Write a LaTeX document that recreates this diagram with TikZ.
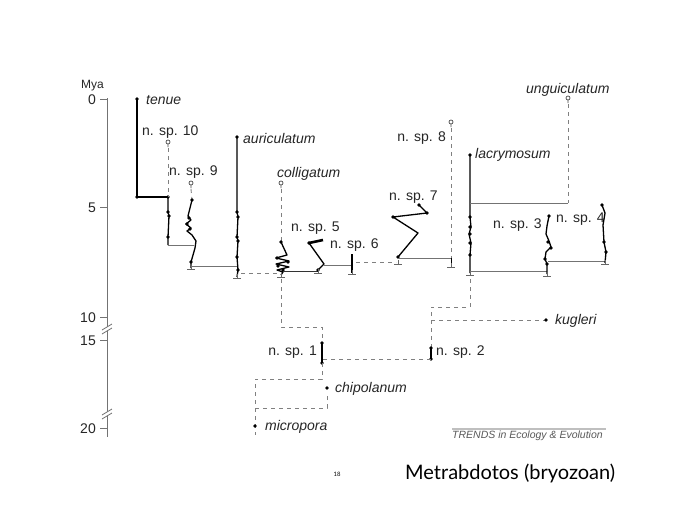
\documentclass[tikz,border=0pt]{standalone}
\usepackage{fontspec}
\setmainfont{Liberation Sans}
\newfontfamily\titlefont{Lato}
\tikzset{
  lin/.style={line width=1.3pt, black, line join=round},
  conn/.style={line width=1pt, black!55},
  dsh/.style={line width=0.9pt, black!50, dash pattern=on 4pt off 4pt},
  axis/.style={line width=1pt, black!55},
  lbl/.style={font=\fontsize{14}{16}\selectfont, inner sep=0pt, anchor=base west, text=black!85},
  sp/.style={lbl, font=\fontsize{14}{16}\selectfont\itshape},
}
\newcommand\mydot[1]{\fill (#1) circle (1.8pt);}
\newcommand\myopen[2]{\draw[line width=0.7pt, black!70] (#1,#2) circle (2pt) (#1,#2+2)--(#1,#2+5);}
\newcommand\btk[2]{\draw[line width=0.8pt, black!60] (#1-4,#2)--(#1+4,#2) (#1,#2-4)--(#1,#2);}
\begin{document}
\begin{tikzpicture}[x=1pt,y=-1pt]
\useasboundingbox (0,0) rectangle (688,504);
\fill[white] (0,0) rectangle (688,504);
% axis
\draw[axis] (107,98)--(107,437);
\foreach \yy in {99,207,317,340,428} \draw[axis] (100,\yy)--(107,\yy);
\node[lbl, anchor=base east] (t0) at (96,104) {0};
\node[lbl, anchor=base east] (t5) at (96,212) {5};
\node[lbl, anchor=base east] (t10) at (96,322) {10};
\node[lbl, anchor=base east] (t15) at (96,345) {15};
\node[lbl, anchor=base east] (t20) at (96,433) {20};
\node[lbl, font=\fontsize{12}{14}\selectfont] (mya) at (81,88) {Mya};
\foreach \yy in {329,414} {
  \fill[white] (102,\yy+1)--(112,\yy-5)--(112,\yy-1)--(102,\yy+5)--cycle;
  \draw[axis, line width=0.8pt] (102,\yy+1)--(112,\yy-5) (102,\yy+5)--(112,\yy-1);
}
% tenue
\draw[lin] (137,99)--(137,197)--(168,197);
\mydot{137,99}\mydot{137,197}\mydot{168,197}
\node[sp] (tenue) at (146,104) {tenue};
% n sp 10
\myopen{168}{142}
\draw[dsh] (168,148)--(168,197);
\draw[lin] (168,197)--(168,212)--(169,216)--(168,237)--(168,245);
\mydot{168,212}\mydot{169,216}\mydot{168,237}
\draw[conn] (168,245)--(194,245);
\node[lbl] (ns10) at (142,135) {n. sp. 10};
% n sp 9
\myopen{191}{183}
\draw[dsh] (191,189)--(192,200);
\draw[lin] (192,200)--(188,216)--(191,220)--(186,224)--(191,228)--(187,231)--(192,235)--(196,241)--(195,248)--(191,262)--(191,268);
\mydot{192,200}\mydot{189,218}\mydot{187,224}\mydot{190,229}\mydot{191,262}
\btk{191}{269}
\draw[conn] (191,266)--(237,266);
\node[lbl] (ns9) at (169,175) {n. sp. 9};
% auriculatum
\draw[lin] (237,137)--(237,212)--(238,217)--(237,237)--(238,241)--(237,257)--(238,270)--(237,277);
\mydot{237,137}\mydot{237,212}\mydot{238,217}\mydot{237,237}\mydot{238,241}\mydot{237,257}\mydot{238,270}
\btk{237}{278}
\draw[dsh] (241,273)--(279,273);
\node[sp] (auric) at (243,143) {auriculatum};
% colligatum
\myopen{281}{183}
\draw[dsh] (281,189)--(281,242);
\draw[lin] (281,242)--(287,255)--(276,258)--(289,261)--(276,264)--(289,267)--(277,270)--(283,272)--(281,275);
\mydot{281,242}\mydot{277,258}\mydot{288,262}\mydot{278,266}\mydot{283,270}
\btk{281}{277}
\node[sp] (collig) at (277,177) {colligatum};
\draw[line width=0.9pt, black!80] (283,271)--(318,271);
% n sp 5
\draw[lin] (318,270)--(324,264)--(309,243);
\draw[line width=2.6pt, black] (309,243)--(323,240);
\mydot{318,270}\mydot{309,243}
\btk{318}{273}
\draw[conn] (324,265)--(352,265);
\node[lbl] (ns5) at (291,231) {n. sp. 5};
% n sp 6
\draw[lin] (352,254)--(352,273);
\draw[line width=2.6pt] (352,254)--(352,260);
\btk{352}{274}
\node[lbl] (ns6) at (330,248) {n. sp. 6};
\draw[dsh] (356,262)--(396,262);
% n sp 7
\draw[lin] (398,257)--(418,233)--(393,217)--(427,213)--(419,205);
\mydot{398,257}\mydot{393,217}\mydot{427,213}\mydot{419,205}
\btk{398}{264}
\draw[conn] (398,258)--(451,258);
\node[lbl] (ns7) at (389,200) {n. sp. 7};
% n sp 8
\myopen{451}{122}
\draw[dsh] (451,128)--(451,258);
\draw[lin, line width=0.9pt] (451,258)--(451,266);
\btk{451}{267}
\node[lbl, anchor=base east] (ns8) at (446,141) {n. sp. 8};
% lacrymosum
\draw[lin] (470,155)--(470,217)--(471,227)--(469,234)--(471,243)--(470,255)--(470,273);
\mydot{470,155}\mydot{470,217}\mydot{470,227}\mydot{470,234}\mydot{470,243}\mydot{470,255}
\btk{470}{275}
\node[sp] (lacry) at (475,158) {lacrymosum};
% unguiculatum
\myopen{568}{98}
\draw[dsh] (568,104)--(568,203);
\draw[conn] (470,203)--(568,203);
\node[sp] (ungui) at (526,93) {unguiculatum};
% n sp 3
\draw[conn] (470,271)--(547,271);
\draw[lin] (549,216)--(547,226)--(546,234)--(549,241)--(551,247)--(546,252)--(545,259)--(547,264)--(547,274);
\mydot{549,216}\mydot{548,242}\mydot{551,248}\mydot{545,259}\mydot{547,264}
\btk{547}{276}
\node[lbl] (ns3) at (493,228) {n. sp. 3};
% n sp 4
\draw[conn] (548,261)--(605,261);
\draw[lin] (602,205)--(605,213)--(603,225)--(604,242)--(606,252)--(605,263);
\mydot{602,205}\mydot{604,242}\mydot{606,252}
\btk{605}{264}
\node[lbl] (ns4) at (556,222) {n. sp. 4};
% lower dashed tree
\draw[dsh] (470,279)--(470,307)--(431,307)--(431,348);
\draw[lin, line width=1.8pt] (431,348)--(431,359);
\mydot{431,348}\mydot{431,359}
\node[lbl] (ns2) at (436,355) {n. sp. 2};
\draw[dsh] (431,320)--(546,320);
\mydot{546,320}
\node[sp] (kug) at (555,324) {kugleri};
\draw[dsh] (431,359)--(322,359);
\draw[dsh] (281,279)--(281,327)--(322,327)--(322,343);
\draw[lin, line width=1.8pt] (322,343)--(322,363);
\mydot{322,343}\mydot{322,363}
\node[lbl, anchor=base east] (ns1) at (317,355) {n. sp. 1};
\draw[dsh] (322,363)--(322,379)--(255,379)--(255,435);
\mydot{255,426}
\node[sp] (micro) at (265,430) {micropora};
\draw[dsh] (255,408)--(327,408)--(327,393);
\mydot{327,388}
\node[sp] (chipo) at (335,392) {chipolanum};
% credits
\draw[line width=1.5pt, black!25] (452,429)--(606,429);
\node[lbl, font=\fontsize{10.5}{12}\selectfont\itshape, text=black!65] (trends) at (452,438) {TRENDS in Ecology \& Evolution};
\node[inner sep=0pt, anchor=base, font=\titlefont\fontsize{6}{7}\selectfont] (pg) at (337,476) {18};
\node[inner sep=0pt, anchor=base west, font=\titlefont\fontsize{20}{24}\selectfont] (title) at (405,479) {Metrabdotos (bryozoan)};
\end{tikzpicture}
\end{document}
